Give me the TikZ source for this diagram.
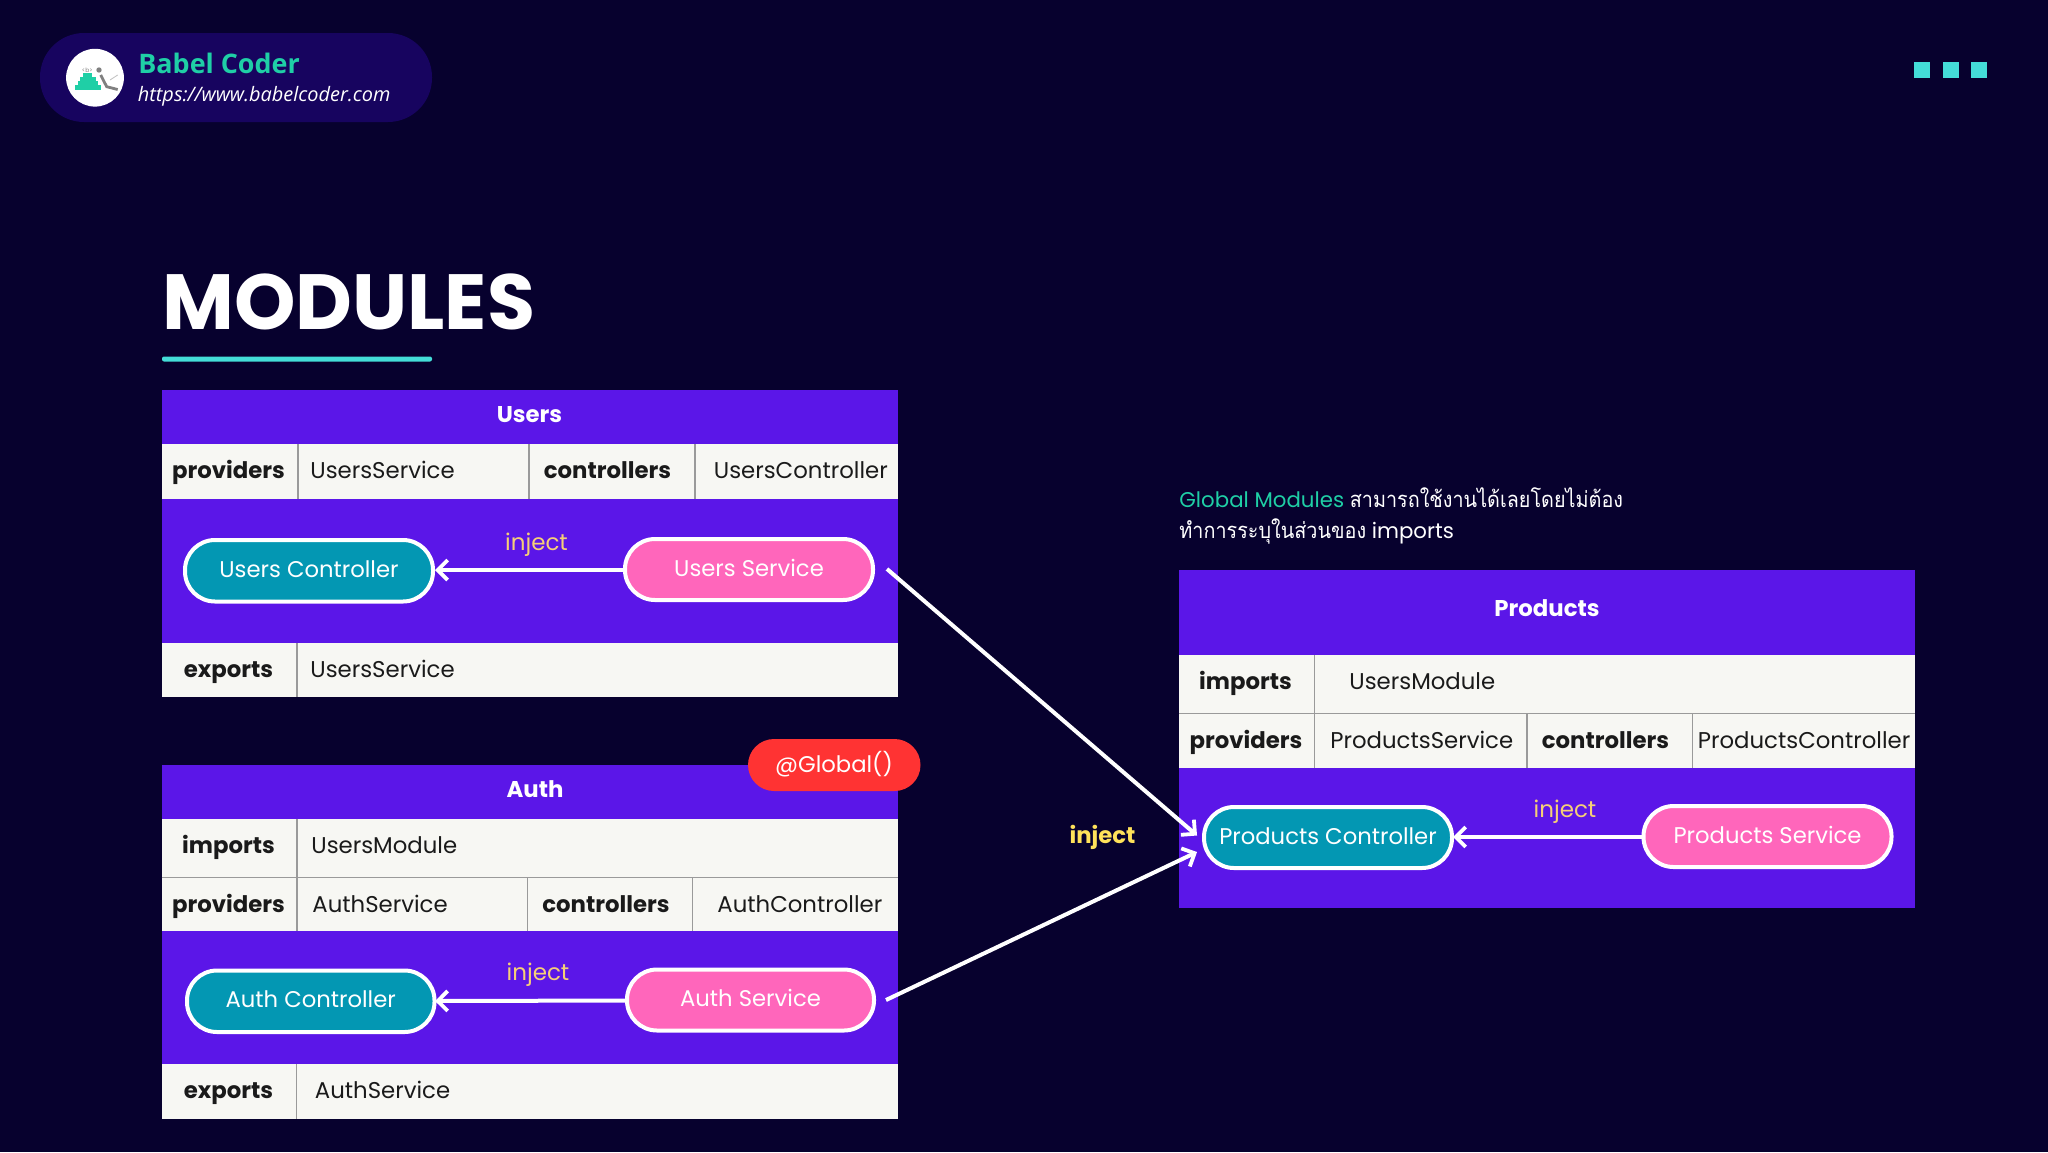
\documentclass[tikz,border=0pt]{standalone}
\usepackage{fontspec}
\setmainfont{Poppins}
\newfontfamily\opensans{Open Sans}
\newfontfamily\thaifont[Script=Thai,FakeStretch=0.9]{Loma}
\usetikzlibrary{arrows.meta}
\definecolor{bgc}{HTML}{07012E}
\definecolor{pillbg}{HTML}{17045F}
\definecolor{purp}{HTML}{5B16E8}
\definecolor{cellc}{HTML}{F7F7F3}
\definecolor{teal}{HTML}{0397B3}
\definecolor{pinkc}{HTML}{FF66BB}
\definecolor{aqua}{HTML}{44DDD8}
\definecolor{greenc}{HTML}{1FCFA6}
\definecolor{gold}{HTML}{F6CF77}
\definecolor{yel}{HTML}{FFE25A}
\definecolor{redc}{HTML}{FF3333}
\definecolor{inkc}{HTML}{1A1A1A}
\definecolor{linec}{HTML}{9A9A9A}
\tikzset{
  x=0.5pt,y=-0.5pt,
  rule/.style={linec,line width=0.6pt},
  svc/.style={rounded corners=15pt,draw=white,line width=2pt},
  txt/.style={inner sep=0pt,text height=8pt,text depth=0pt},
  lbl/.style={txt,font=\fontsize{11.4}{14}\selectfont\bfseries,text=inkc},
  val/.style={txt,font=\fontsize{11.4}{14}\selectfont,text=inkc,anchor=west},
  title/.style={txt,font=\fontsize{11.4}{14}\selectfont\bfseries,text=white},
  pilltext/.style={txt,font=\fontsize{11.35}{14}\selectfont,text=white,yshift=0.7pt},
  injlbl/.style={txt,font=\fontsize{11.5}{14}\selectfont,text=gold},
  conn/.style={white,line width=2pt,-{Straight Barb[length=5pt,width=10pt,line width=1.9pt]}},
}
\begin{document}
\begin{tikzpicture}
\useasboundingbox (0,0) rectangle (2048,1152);
\fill[bgc] (0,0) rectangle (2048,1152);
% brand
\fill[pillbg,rounded corners=22pt] (40,33) rectangle (432,122);
\fill[white] (95,77.7) circle (28.9);
\fill[greenc] (75,85.4) rectangle (100.7,90);
\fill[greenc] (77.7,81) rectangle (97.7,85);
\fill[greenc] (80,77) rectangle (95.7,80.6);
\fill[greenc] (83.3,73.3) rectangle (92.3,76.6);
\fill[gray] (99,70) circle (2.7);
\draw[gray,line width=1.4pt] (100.7,75) -- (106.7,86.7) -- (117.7,89.5);
\draw[lightgray,line width=0.4pt] (110,80) -- (117.7,75);
\node[inner sep=0pt,text=gray,font=\fontsize{3}{3}\selectfont] (tag) at (87.3,70) {<b>};
\node[inner sep=0pt,anchor=west,text=greenc] (brand) at (138,63) {\opensans\bfseries\fontsize{13.45}{16}\selectfont Babel Coder};
\node[inner sep=0pt,anchor=west,text=white] (url) at (137.5,96.5) {\opensans\itshape\fontsize{9.95}{12}\selectfont https://www.babelcoder.com};
% squares
\fill[aqua] (1914,62.3) rectangle (1930,78.3);
\fill[aqua] (1942.7,62.3) rectangle (1958.7,78.3);
\fill[aqua] (1971.3,62.3) rectangle (1987.3,78.3);
% title
\node[inner sep=0pt,anchor=west,text=white] (mod) at (162,301.5) {\fontsize{39.1}{44}\selectfont\bfseries MODULES};
\fill[aqua,rounded corners=1pt] (162,356.5) rectangle (432,361.5);
% Users
\fill[purp] (161.5,389.5) rectangle (898,697);
\fill[cellc] (161.5,444) rectangle (898,498.5);
\fill[cellc] (161.5,643) rectangle (898,697);
\draw[rule] (298,444) -- (298,498.5) (529,444) -- (529,498.5) (695,444) -- (695,498.5) (297,643) -- (297,697);
\node[title] (ut) at (529.5,414) {Users};
\node[lbl] (u1) at (228.5,470) {providers};
\node[val] (u2) at (310,470) {UsersService};
\node[lbl] (u3) at (607.5,470) {controllers};
\node[val] (u4) at (713.5,470) {UsersController};
\node[lbl] (u5) at (228.5,669) {exports};
\node[val] (u6) at (310,669) {UsersService};
\draw[svc,fill=teal] (185,540) rectangle (433,601.5) node[midway,pilltext] (uc) {Users Controller};
\draw[svc,fill=pinkc] (625,539) rectangle (873,600) node[midway,pilltext] (us) {Users Service};
\coordinate (ucR) at (435,570); \coordinate (usL) at (623,570);
\draw[conn] (usL) -- (ucR);
\node[injlbl] (ui) at (536.5,542) {inject};
% Auth
\fill[purp] (161.5,764.5) rectangle (897.5,1118.5);
\fill[cellc] (161.5,818.5) rectangle (897.5,931);
\fill[cellc] (161.5,1064) rectangle (897.5,1118.5);
\draw[rule] (161.5,877.5) -- (897.5,877.5) (297,818.5) -- (297,931) (527.5,877.5) -- (527.5,931) (692.5,877.5) -- (692.5,931) (296.5,1064) -- (296.5,1118.5);
\node[title] (at) at (535,789) {Auth};
\node[lbl] (a1) at (228.5,845) {imports};
\node[val] (a2) at (311,845) {UsersModule};
\node[lbl] (a3) at (228.5,904) {providers};
\node[val] (a4) at (312,904) {AuthService};
\node[lbl] (a5) at (606,904) {controllers};
\node[val] (a6) at (717,904) {AuthController};
\node[lbl] (a7) at (228.5,1090.5) {exports};
\node[val] (a8) at (314.5,1090.5) {AuthService};
\draw[svc,fill=teal] (187,970.5) rectangle (434.5,1032) node[midway,pilltext] (ac) {Auth Controller};
\draw[svc,fill=pinkc] (627,969.5) rectangle (874,1030.5) node[midway,pilltext] (as) {Auth Service};
\coordinate (acR) at (435,1001); \coordinate (asL) at (625,1000.5);
\draw[conn] (asL) -- (acR);
\node[injlbl] (ai) at (538,972) {inject};
\fill[redc,rounded corners=13pt] (748,739) rectangle (920.5,791);
\node[pilltext] (glob) at (834,765.5) {@Global()};
% Products
\node[inner sep=0pt,anchor=west,text=white] (n1) at (1179,497.5) {\fontsize{10.65}{14}\selectfont\textcolor{greenc}{Global Modules} {\thaifont\fontsize{11}{14}\selectfont สามารถใช้งานได้เลยโดยไม่ต้อง}};
\node[inner sep=0pt,anchor=west,text=white] (n2) at (1179,531) {\fontsize{10.65}{14}\selectfont{\thaifont\fontsize{11}{14}\selectfont ทำการระบุในส่วนของ} imports};
\fill[purp] (1179,569.5) rectangle (1914.5,907.5);
\fill[cellc] (1179,655) rectangle (1914.5,767.5);
\draw[rule] (1179,713.5) -- (1914.5,713.5) (1314.5,655) -- (1314.5,767.5) (1527,713.5) -- (1527,767.5) (1692.5,713.5) -- (1692.5,767.5);
\node[title] (pt) at (1547,608) {Products};
\node[lbl] (p1) at (1245.5,681.5) {imports};
\node[val] (p2) at (1349,681.5) {UsersModule};
\node[lbl] (p3) at (1246,740) {providers};
\node[val] (p4) at (1330,740) {ProductsService};
\node[lbl] (p5) at (1605.5,740) {controllers};
\node[val] (p6) at (1697.5,740) {ProductsController};
\draw[svc,fill=teal] (1204,807) rectangle (1452,868) node[midway,pilltext] (pc) {Products Controller};
\draw[svc,fill=pinkc] (1643.5,806) rectangle (1891.5,867) node[midway,pilltext] (ps) {Products Service};
\coordinate (pcR) at (1453,837); \coordinate (psL) at (1642,837);
\draw[conn] (psL) -- (pcR);
\node[injlbl] (pi) at (1565,809) {inject};
% cross connectors
\coordinate (usO) at (887,569); \coordinate (asO) at (886,1000);
\coordinate (pcA) at (1197,835.5); \coordinate (pcB) at (1197,852);
\draw[conn] (usO) -- (pcA);
\draw[conn] (asO) -- (pcB);
\node[txt,text=yel,font=\fontsize{11.4}{14}\selectfont\bfseries] (xi) at (1102.5,835) {inject};
\end{tikzpicture}
\end{document}
